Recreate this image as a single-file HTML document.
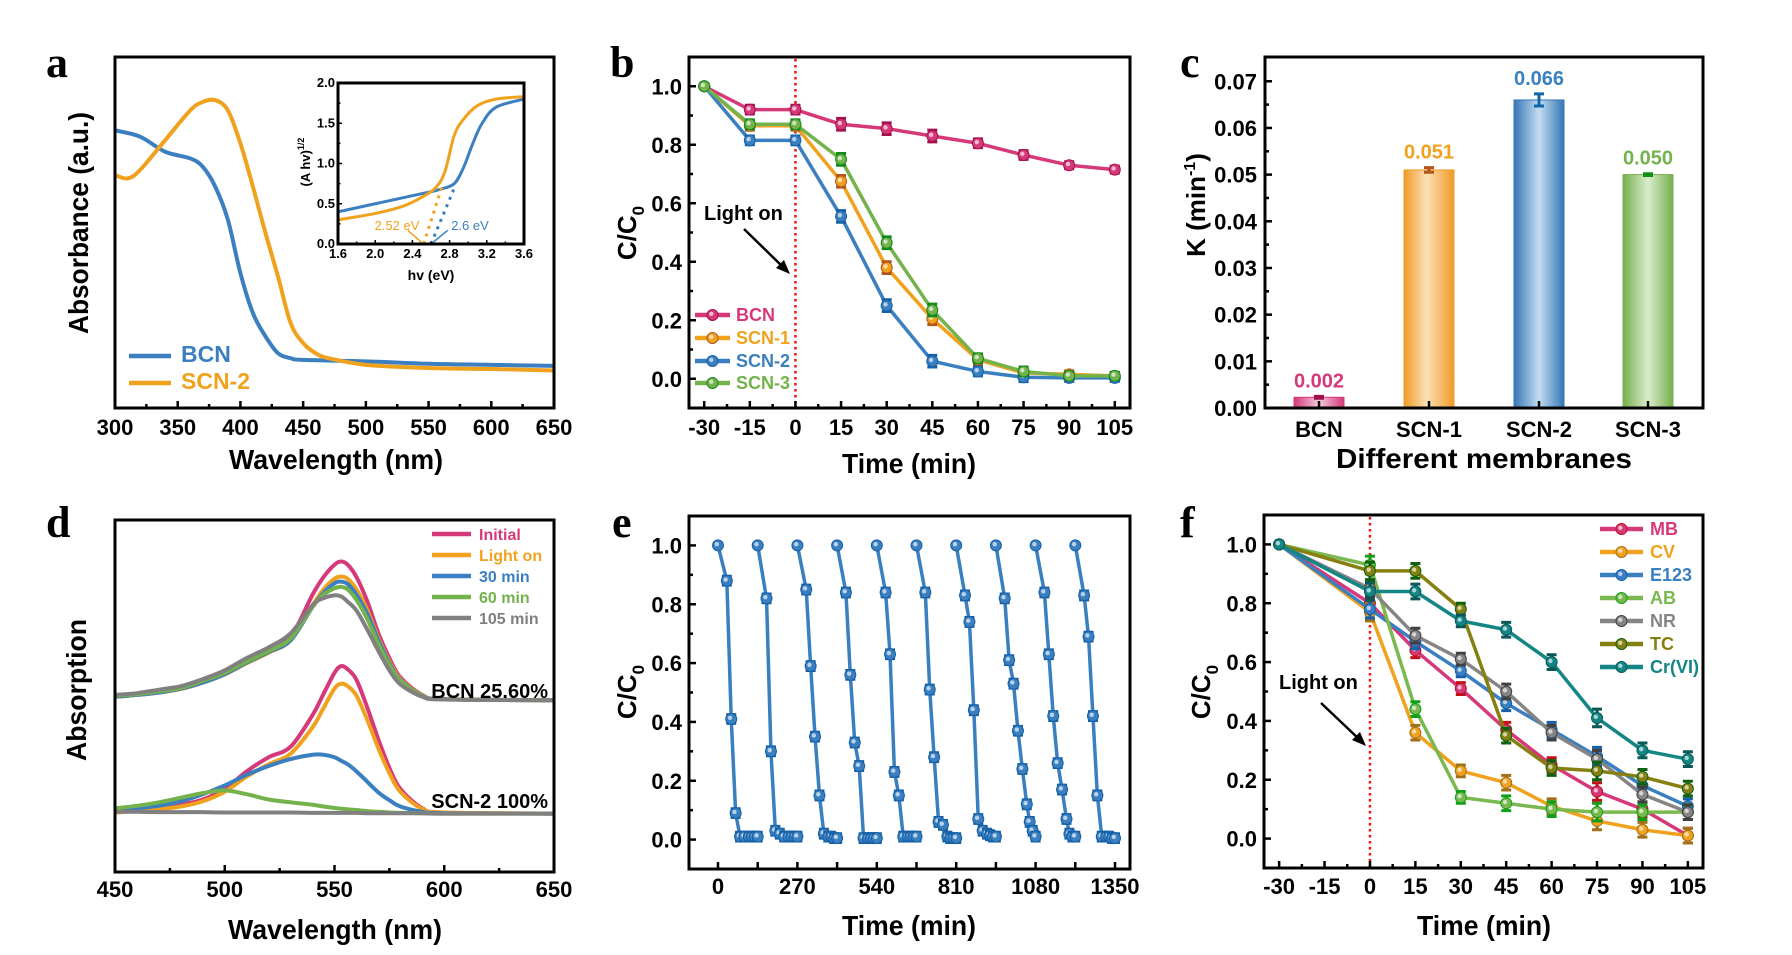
<!DOCTYPE html>
<html><head><meta charset="utf-8"><title>Photocatalysis figure</title>
<style>
html,body{margin:0;padding:0;background:#fff;}
svg{display:block;font-family:"Liberation Sans",Arial,sans-serif;}
</style></head>
<body>
<svg id="fig" width="1792" height="955" viewBox="0 0 1792 955" xmlns="http://www.w3.org/2000/svg">
<defs>
<linearGradient id="gBCN" x1="0" x2="1" y1="0" y2="0"><stop offset="0" stop-color="#d4387a"/><stop offset="0.5" stop-color="#f6cadb"/><stop offset="1" stop-color="#d4387a"/></linearGradient>
<linearGradient id="gS1" x1="0" x2="1" y1="0" y2="0"><stop offset="0" stop-color="#ef9b26"/><stop offset="0.45" stop-color="#fbe0b6"/><stop offset="1" stop-color="#ef9b26"/></linearGradient>
<linearGradient id="gS2" x1="0" x2="1" y1="0" y2="0"><stop offset="0" stop-color="#3677b6"/><stop offset="0.5" stop-color="#c3ddf1"/><stop offset="1" stop-color="#3677b6"/></linearGradient>
<linearGradient id="gS3" x1="0" x2="1" y1="0" y2="0"><stop offset="0" stop-color="#76ae4e"/><stop offset="0.5" stop-color="#dbeccd"/><stop offset="1" stop-color="#76ae4e"/></linearGradient>
</defs>
</svg>
<script>
// ---------- DATA ----------
// panel a
const aWl = [300,320,340,360,370,380,390,400,410,420,430,440,450,500,550,600,650];
const aBCN = [0.791,0.773,0.730,0.711,0.687,0.630,0.536,0.384,0.270,0.204,0.156,0.142,0.137,0.133,0.126,0.123,0.120];
const aSCNwl = [300,310,320,340,360,370,380,390,400,410,420,430,440,450,460,470,500,550,600,650];
const aSCN = [0.664,0.654,0.678,0.763,0.848,0.872,0.877,0.848,0.754,0.630,0.498,0.374,0.242,0.185,0.156,0.142,0.123,0.114,0.111,0.107];
const aXTicks = [300,350,400,450,500,550,600,650];
// inset
const insBlueX = [1.6,2.0,2.4,2.6,2.7,2.85,2.95,3.05,3.15,3.3,3.6];
const insBlueY = [0.4,0.5,0.6,0.65,0.68,0.75,0.95,1.25,1.5,1.7,1.8];
const insOrX = [1.6,2.0,2.3,2.5,2.65,2.75,2.85,2.95,3.1,3.3,3.6];
const insOrY = [0.3,0.38,0.47,0.58,0.7,0.9,1.35,1.55,1.72,1.8,1.83];
const insXTicks = [1.6,2.0,2.4,2.8,3.2,3.6];
const insYTicks = [0.0,0.5,1.0,1.5,2.0];
const gapOrange = 2.52, gapBlue = 2.6;
// panel b
const bTimes = [-30,-15,0,15,30,45,60,75,90,105];
const bBCN = [1,0.92,0.92,0.87,0.855,0.83,0.805,0.765,0.73,0.715];
const bSCN1 = [1,0.865,0.865,0.675,0.38,0.205,0.065,0.02,0.015,0.01];
const bSCN2 = [1,0.815,0.815,0.555,0.25,0.06,0.025,0.005,0.003,0.003];
const bSCN3 = [1,0.87,0.87,0.75,0.465,0.235,0.07,0.025,0.01,0.01];
const bErr = [0,0.015,0.015,0.02,0.02,0.02,0.015,0.015,0.012,0.012];
const bYTicks = [0.0,0.2,0.4,0.6,0.8,1.0];
// panel c
const cNames = ['BCN','SCN-1','SCN-2','SCN-3'];
const cK = [0.0023,0.051,0.066,0.050];
const cErr = [0.0002,0.0005,0.0013,0.0002];
const cLabels = ['0.002','0.051','0.066','0.050'];
const cYTicks = [0.00,0.01,0.02,0.03,0.04,0.05,0.06,0.07];
// panel d
const dWl = [450,460,470,480,490,500,510,520,530,540,545,550,553,556,560,565,570,575,580,590,600,650];
const dBCNbase = 0.488, dSCNbase = 0.166;
const dBCNInitial = [0.01,0.015,0.022,0.032,0.05,0.075,0.11,0.14,0.18,0.30,0.35,0.385,0.394,0.385,0.35,0.28,0.19,0.12,0.065,0.015,0.003,0];
const dBCNLight = [0.01,0.015,0.022,0.032,0.05,0.073,0.105,0.135,0.17,0.27,0.315,0.345,0.351,0.345,0.315,0.255,0.175,0.11,0.06,0.014,0.003,0];
const dBCN30 = [0.01,0.015,0.022,0.033,0.05,0.074,0.107,0.137,0.17,0.265,0.305,0.332,0.337,0.33,0.30,0.245,0.17,0.105,0.057,0.013,0.003,0];
const dBCN60 = [0.012,0.017,0.025,0.035,0.055,0.078,0.11,0.14,0.175,0.265,0.30,0.318,0.322,0.315,0.285,0.23,0.16,0.10,0.055,0.012,0.003,0];
const dBCN105 = [0.015,0.02,0.03,0.04,0.06,0.085,0.12,0.15,0.19,0.27,0.29,0.298,0.295,0.28,0.255,0.20,0.14,0.085,0.045,0.01,0.002,0];
const dSCNInitial = [0.005,0.01,0.015,0.025,0.04,0.07,0.12,0.16,0.19,0.28,0.34,0.40,0.419,0.41,0.38,0.30,0.21,0.13,0.07,0.015,0.003,0];
const dSCNLight = [0.003,0.007,0.012,0.02,0.035,0.062,0.105,0.14,0.17,0.245,0.30,0.355,0.369,0.362,0.335,0.265,0.185,0.115,0.062,0.013,0.003,0];
const dSCN30 = [0.01,0.015,0.022,0.035,0.055,0.08,0.11,0.135,0.155,0.167,0.167,0.16,0.15,0.14,0.12,0.09,0.06,0.038,0.02,0.005,0.001,0];
const dSCN60 = [0.015,0.022,0.032,0.045,0.058,0.066,0.055,0.04,0.032,0.025,0.02,0.016,0.014,0.012,0.01,0.007,0.005,0.003,0.002,0.001,0,0];
const dSCN105 = [0.005,0.005,0.004,0.004,0.004,0.003,0.003,0.003,0.003,0.002,0.002,0.002,0.002,0.002,0.002,0.001,0.001,0.001,0.001,0.001,0,0];
const dXTicks = [450,500,550,600,650];
// panel e
const eLocalT = [0,30,45,60,75,90,105,115,125,135];
const eCycleLen = 135;
const eCycle1 = [1,0.88,0.41,0.09,0.01,0.01,0.01,0.01,0.01,0.01];
const eCycle2 = [1,0.82,0.30,0.03,0.02,0.01,0.01,0.01,0.01,0.01];
const eCycle3 = [1,0.85,0.59,0.35,0.15,0.02,0.01,0.01,0.005,0.005];
const eCycle4 = [1,0.84,0.56,0.33,0.25,0.005,0.005,0.005,0.005,0.005];
const eCycle5 = [1,0.84,0.63,0.23,0.15,0.01,0.01,0.01,0.01,0.01];
const eCycle6 = [1,0.84,0.51,0.28,0.06,0.05,0.01,0.005,0.005,0.005];
const eCycle7 = [1,0.83,0.74,0.44,0.07,0.03,0.02,0.015,0.01,0.01];
const eCycle8 = [1,0.82,0.61,0.53,0.37,0.24,0.12,0.06,0.03,0.01];
const eCycle9 = [1,0.84,0.63,0.42,0.26,0.17,0.07,0.02,0.01,0.01];
const eCycle10 = [1,0.83,0.69,0.42,0.15,0.01,0.01,0.01,0.005,0.005];
const eXTicks = [0,270,540,810,1080,1350];
// panel f
const fTimes = [-30,0,15,30,45,60,75,90,105];
const fMB = [1,0.80,0.64,0.51,0.37,0.25,0.16,0.10,0.01];
const fCV = [1,0.77,0.36,0.23,0.19,0.11,0.06,0.03,0.01];
const fE123 = [1,0.78,0.67,0.57,0.46,0.37,0.28,0.18,0.11];
const fAB = [1,0.93,0.44,0.14,0.12,0.10,0.09,0.09,0.09];
const fNR = [1,0.85,0.69,0.61,0.50,0.36,0.27,0.15,0.09];
const fTC = [1,0.91,0.91,0.78,0.35,0.24,0.23,0.21,0.17];
const fCr = [1,0.84,0.84,0.74,0.71,0.60,0.41,0.30,0.27];
const fErr = [0,0.03,0.025,0.02,0.025,0.025,0.03,0.025,0.025];

// ---------- HELPERS ----------
const NS='http://www.w3.org/2000/svg';
const svg=document.getElementById('fig');
function el(tag,attrs,parent){const e=document.createElementNS(NS,tag);for(const k in attrs)e.setAttribute(k,attrs[k]);(parent||svg).appendChild(e);return e;}
function lin(d0,d1,r0,r1){return v=>r0+(v-d0)/(d1-d0)*(r1-r0);}
function txt(x,y,s,o,parent){o=o||{};const t=el('text',{x:x,y:y,'font-size':o.size||21,'font-weight':o.weight||'bold','text-anchor':o.anchor||'middle',fill:o.fill||'#000'},parent);if(o.family)t.setAttribute('font-family',o.family);if(o.len){t.setAttribute('textLength',o.len);t.setAttribute('lengthAdjust','spacingAndGlyphs');}if(o.rot)t.setAttribute('transform','rotate(-90 '+x+' '+y+')');t.textContent=s;return t;}
function smooth(pts){let d='M'+pts[0][0]+','+pts[0][1];for(let i=0;i<pts.length-1;i++){const p0=pts[Math.max(0,i-1)],p1=pts[i],p2=pts[i+1],p3=pts[Math.min(pts.length-1,i+2)];const c1x=p1[0]+(p2[0]-p0[0])/6,c1y=p1[1]+(p2[1]-p0[1])/6,c2x=p2[0]-(p3[0]-p1[0])/6,c2y=p2[1]-(p3[1]-p1[1])/6;d+=' C'+c1x+','+c1y+' '+c2x+','+c2y+' '+p2[0]+','+p2[1];}return d;}
function poly(pts){return 'M'+pts.map(p=>p[0]+','+p[1]).join(' L');}
function frame(x0,y0,x1,y1,name){const r=el('rect',{x:x0,y:y0,width:x1-x0,height:y1-y0,fill:'none',stroke:'#000','stroke-width':3});


return r;}
function tick(x1,y1,x2,y2,w){const l=el('line',{x1:x1,y1:y1,x2:x2,y2:y2,stroke:'#000','stroke-width':w||2.5});


return l;}
function marker(g,x,y,col,dark){const c=el('circle',{cx:x,cy:y,r:5.5,fill:col,stroke:dark,'stroke-width':1},g);


const h=el('circle',{cx:x-1.2,cy:y-1.2,r:2.2,fill:'#fff',opacity:0.65},g);

}
function errbar(g,x,y1,y2,col){const p=el('path',{d:'M'+x+','+y1+' L'+x+','+y2+' M'+(x-5)+','+y1+' L'+(x+5)+','+y1+' M'+(x-5)+','+y2+' L'+(x+5)+','+y2,stroke:col,'stroke-width':3,fill:'none'},g);

}
function panelLabel(x,y,s){const t=txt(x,y,s,{size:44,family:'"Liberation Serif",serif',anchor:'start'});

}
function yTitleC0(x,y,name){const t=el('text',{x:x,y:y,'font-size':26,'font-weight':'bold','text-anchor':'middle',transform:'rotate(-90 '+x+' '+y+')'});


t.textContent='C/C';
const s=el('tspan',{'font-size':17,dy:8},t);s.textContent='0';}
function series(g,xs,ys,X,Y,col,dark,errs,name){const pts=xs.map((v,i)=>[X(v),Y(ys[i])]);const p=el('path',{d:poly(pts),stroke:col,'stroke-width':3.5,fill:'none','stroke-linejoin':'round'},g);


pts.forEach((q,i)=>{if(errs&&errs[i]>0)errbar(g,q[0],Y(ys[i]+errs[i]),Y(ys[i]-errs[i]),dark);marker(g,q[0],q[1],col,dark);});}
function legendEntry(x1,x2,y,tx,label,col,dark,withMarker,size){const l=el('line',{x1:x1,y1:y,x2:x2,y2:y,stroke:col,'stroke-width':4.5});


if(withMarker)marker(svg,(x1+x2)/2,y,col,dark);
const t=txt(tx,y+6,label,{size:size||18,anchor:'start',fill:col});

}

// ================= PANEL A =================
(function(){
const X=lin(300,650,115,554), Y=lin(0,1,408,57);
panelLabel(46,77,'a');
const g=el('g',{});


const pb=el('path',{d:smooth(aWl.map((w,i)=>[X(w),Y(aBCN[i])])),stroke:'#3b7fc0','stroke-width':4,fill:'none'},g);


const po=el('path',{d:smooth(aSCNwl.map((w,i)=>[X(w),Y(aSCN[i])])),stroke:'#f0a21e','stroke-width':4,fill:'none'},g);


frame(115,57,554,408,'panel-a-frame');
for(let v=300;v<=650;v+=25){const major=(v%50===0);tick(X(v),408,X(v),408-(major?7:4));}
aXTicks.forEach(v=>{const t=txt(X(v),435,String(v),{size:22});

});
const xt=txt(336,469,'Wavelength (nm)',{size:28,len:214});


const yt=txt(88,223,'Absorbance (a.u.)',{size:28,rot:true,len:222});


legendEntry(129,171,356,181,'BCN','#3b7fc0','',false,23);
legendEntry(129,171,383,181,'SCN-2','#f0a21e','',false,23);

// inset
const IX=lin(1.6,3.6,338,524), IY=lin(0,2,244,83);
const gi=el('g',{});


const ib=el('path',{d:smooth(insBlueX.map((v,i)=>[IX(v),IY(insBlueY[i])])),stroke:'#3b7fc0','stroke-width':3,fill:'none'},gi);


const io=el('path',{d:smooth(insOrX.map((v,i)=>[IX(v),IY(insOrY[i])])),stroke:'#f0a21e','stroke-width':3,fill:'none'},gi);


const to=el('line',{x1:IX(gapOrange),y1:IY(0),x2:IX(2.72),y2:IY(0.72),stroke:'#f0a21e','stroke-width':3,'stroke-dasharray':'3,5'},gi);


const tb=el('line',{x1:IX(gapBlue),y1:IY(0),x2:IX(2.86),y2:IY(0.72),stroke:'#3b7fc0','stroke-width':3,'stroke-dasharray':'3,5'},gi);


const ao=el('line',{x1:IX(2.35),y1:IY(0.17),x2:IX(gapOrange)-2,y2:IY(0.02),stroke:'#f0a21e','stroke-width':1.5},gi);


const ab=el('line',{x1:IX(2.78),y1:IY(0.17),x2:IX(gapBlue)+2,y2:IY(0.02),stroke:'#3b7fc0','stroke-width':1.5},gi);


const lo=txt(397,230,gapOrange+' eV',{size:13,fill:'#f0a21e',weight:'normal'});


const lb=txt(470,230,gapBlue+' eV',{size:13,fill:'#3b7fc0',weight:'normal'});


frame(338,83,524,244,'inset-frame');
for(let v=1.6;v<=3.61;v+=0.2){const major=Math.abs((v-1.6)/0.4-Math.round((v-1.6)/0.4))<0.01;tick(IX(v),244,IX(v),244-(major?4:2.5),1.5);}
for(let v=0;v<=2.01;v+=0.25){const major=Math.abs(v*2-Math.round(v*2))<0.01;tick(338,IY(v),338+(major?4:2.5),IY(v),1.5);}
insXTicks.forEach(v=>{const t=txt(IX(v),258,v.toFixed(1),{size:13});

});
insYTicks.forEach(v=>{const t=txt(335,IY(v)+4,v.toFixed(1),{size:13,anchor:'end'});

});
const ixt=txt(431,280,'hv (eV)',{size:14});


const iyt=el('text',{x:310,y:162,'font-size':13,'font-weight':'bold','text-anchor':'middle',transform:'rotate(-90 310 162)'});


iyt.textContent='(A hv)';
const sup=el('tspan',{'font-size':9,dy:-6},iyt);sup.textContent='1/2';
})();

// ================= PANEL B =================
(function(){
const X=lin(-35,110,689,1130), Y=lin(-0.1,1.1,408,57);
panelLabel(610,77,'b');
const g=el('g',{});


const rl=el('line',{x1:X(0),y1:59,x2:X(0),y2:406,stroke:'#f01010','stroke-width':2.5,'stroke-dasharray':'2.5,3.5'},g);


series(g,bTimes,bBCN,X,Y,'#d6397a','#a5104e',bErr,'bcn');
series(g,bTimes,bSCN1,X,Y,'#f0a21e','#b0561a',bErr,'scn-1');
series(g,bTimes,bSCN2,X,Y,'#3a7fc0','#1660a8',bErr,'scn-2');
series(g,bTimes,bSCN3,X,Y,'#74b24c','#108a18',bErr,'scn-3');
frame(689,57,1130,408,'panel-b-frame');
for(let v=-30;v<=105;v+=7.5){const major=(v%15===0);tick(X(v),408,X(v),408-(major?7:4));}
for(let v=0;v<=1.0001;v+=0.1){const major=Math.abs(v*5-Math.round(v*5))<0.01;tick(689,Y(v),689+(major?7:4),Y(v));}
bTimes.forEach(v=>{const t=txt(X(v),435,String(v),{size:22});

});
bYTicks.forEach(v=>{const t=txt(682,Y(v)+8,v.toFixed(1),{size:22,anchor:'end'});

});
const xt=txt(909,473,'Time (min)',{size:28,len:134});


yTitleC0(636,233,'y-axis-title');
const lo=txt(704,220,'Light on',{size:20,anchor:'start'});


const ar=el('path',{d:'M744,229 L784,268',stroke:'#000','stroke-width':2.5},g);


const ah=el('path',{d:'M790,274 L776,268 L784,260 Z',fill:'#000'},g);


legendEntry(695,730,315,736,'BCN','#d6397a','#a5104e',true,18);
legendEntry(695,730,338,736,'SCN-1','#f0a21e','#b0561a',true,18);
legendEntry(695,730,361,736,'SCN-2','#3a7fc0','#1660a8',true,18);
legendEntry(695,730,383,736,'SCN-3','#74b24c','#108a18',true,18);
})();

// ================= PANEL C =================
(function(){
const Y=lin(0,0.0752,408,57);
const centers=[1319,1429,1539,1648];
const grads=['url(#gBCN)','url(#gS1)','url(#gS2)','url(#gS3)'];
const labCols=['#d6397a','#f0a21e','#3a7fc0','#74b24c'];
const errCols=['#a0104e','#b0561a','#1066a8','#10901a'];
const borders=['#d4387a','#ef9b26','#3677b6','#76ae4e'];
const g=el('g',{});


cK.forEach((k,i)=>{const r=el('rect',{x:centers[i]-25,y:Y(k),width:50,height:408-Y(k),fill:grads[i],stroke:borders[i],'stroke-width':1},g);


errbar(g,centers[i],Y(k+cErr[i]),Y(k-cErr[i]),errCols[i]);
const t=txt(centers[i],Y(k+cErr[i])-9,cLabels[i],{size:20,fill:labCols[i]});


tick(centers[i],408,centers[i],401);
const xl=txt(centers[i],437,cNames[i],{size:22});

});
frame(1265,57,1703,408,'panel-c-frame');
for(let v=0;v<=0.0701;v+=0.005){const major=Math.abs(v*100-Math.round(v*100))<0.01;tick(1265,Y(v),1265+(major?7:4),Y(v));}
cYTicks.forEach(v=>{const t=txt(1257,Y(v)+8,v.toFixed(2),{size:22,anchor:'end'});

});
const xt=txt(1484,468,'Different membranes',{size:28,len:296});


const yt=el('text',{x:1205,y:205,'font-size':26,'font-weight':'bold','text-anchor':'middle',transform:'rotate(-90 1205 205)'});


yt.textContent='K (min';
const s=el('tspan',{'font-size':16,dy:-10},yt);s.textContent='-1';
const s2=el('tspan',{dy:10},yt);s2.textContent=')';
panelLabel(1180,77,'c');
})();

// ================= PANEL D =================
(function(){
const X=lin(450,650,115,554), Y=lin(0,1,872,520);
panelLabel(46,537,'d');
const g=el('g',{});


const cols=['#d6397a','#f0a21e','#3a7fc0','#74b24c','#808080'];
const names=['initial','light-on','30-min','60-min','105-min'];
const bcn=[dBCNInitial,dBCNLight,dBCN30,dBCN60,dBCN105];
const scn=[dSCNInitial,dSCNLight,dSCN30,dSCN60,dSCN105];
scn.forEach((arr,i)=>{const p=el('path',{d:smooth(dWl.map((w,j)=>[X(w),Y(dSCNbase+arr[j])])),stroke:cols[i],'stroke-width':4,fill:'none'},g);

});
bcn.forEach((arr,i)=>{const p=el('path',{d:smooth(dWl.map((w,j)=>[X(w),Y(dBCNbase+arr[j])])),stroke:cols[i],'stroke-width':4,fill:'none'},g);

});
frame(115,520,554,872,'panel-d-frame');
for(let v=450;v<=650;v+=25){const major=(v%50===0);tick(X(v),872,X(v),872-(major?7:4));}
dXTicks.forEach(v=>{const t=txt(X(v),897,String(v),{size:22});

});
const xt=txt(335,939,'Wavelength (nm)',{size:28,len:214});


const yt=txt(86,690,'Absorption',{size:28,rot:true,len:142});


const b1=txt(548,698,'BCN   25.60%',{size:20,anchor:'end'});


const b2=txt(548,808,'SCN-2  100%',{size:20,anchor:'end'});


const labs=['Initial','Light on','30 min','60 min','105 min'];
[537,558,579,600,621].forEach((y,i)=>legendEntry(432,471,y-3,479,labs[i],cols[i],'',false,16));
})();

// ================= PANEL E =================
(function(){
const X=lin(0,1350,718,1115), Y=lin(-0.1,1.1,869,516);
panelLabel(612,537,'e');
const g=el('g',{});


const cycles=[eCycle1,eCycle2,eCycle3,eCycle4,eCycle5,eCycle6,eCycle7,eCycle8,eCycle9,eCycle10];
cycles.forEach((vals,c)=>{const ts=eLocalT.map(t=>t+c*eCycleLen);const errs=vals.map((v,i)=>i===0?0:0.015);series(g,ts,vals,X,Y,'#3a7fc0','#1660a8',errs,'cycle-'+(c+1));});
frame(689,516,1130,869,'panel-e-frame');
for(let v=0;v<=1350;v+=135){tick(X(v),869,X(v),862);}
for(let v=0;v<=1.0001;v+=0.1){const major=Math.abs(v*5-Math.round(v*5))<0.01;tick(689,Y(v),689+(major?7:4),Y(v));}
eXTicks.forEach(v=>{const t=txt(X(v),894,String(v),{size:22});

});
bYTicks.forEach(v=>{const t=txt(682,Y(v)+8,v.toFixed(1),{size:22,anchor:'end'});

});
const xt=txt(909,935,'Time (min)',{size:28,len:134});


yTitleC0(636,692,'y-axis-title');
})();

// ================= PANEL F =================
(function(){
const X=lin(-35,110,1264,1703), Y=lin(-0.1,1.1,868,515);
panelLabel(1180,537,'f');
const g=el('g',{});


const rl=el('line',{x1:X(0),y1:517,x2:X(0),y2:866,stroke:'#f01010','stroke-width':2.5,'stroke-dasharray':'2.5,3.5'},g);


const sets=[[fMB,'#d6397a','#c0101e','MB'],[fCV,'#f0a21e','#a0701a','CV'],[fE123,'#3a7fc0','#1660a8','E123'],[fAB,'#7ab850','#10a018','AB'],[fNR,'#858585','#404040','NR'],[fTC,'#858010','#106010','TC'],[fCr,'#138585','#0a5858','Cr(VI)']];
sets.forEach(s=>series(g,fTimes,s[0],X,Y,s[1],s[2],fErr,s[3].toLowerCase().replace(/[^a-z0-9]+/g,'')));
frame(1264,515,1703,868,'panel-f-frame');
for(let v=-30;v<=105;v+=7.5){const major=(v%15===0);tick(X(v),868,X(v),868-(major?7:4));}
for(let v=0;v<=1.0001;v+=0.1){const major=Math.abs(v*5-Math.round(v*5))<0.01;tick(1264,Y(v),1264+(major?7:4),Y(v));}
bTimes.forEach(v=>{const t=txt(X(v),894,String(v),{size:22});

});
bYTicks.forEach(v=>{const t=txt(1257,Y(v)+8,v.toFixed(1),{size:22,anchor:'end'});

});
const xt=txt(1484,935,'Time (min)',{size:28,len:134});


yTitleC0(1210,692,'y-axis-title');
const lo=txt(1279,689,'Light on',{size:20,anchor:'start'});


const ar=el('path',{d:'M1321,703 L1360,740',stroke:'#000','stroke-width':2.5},g);


const ah=el('path',{d:'M1366,746 L1352,740 L1360,732 Z',fill:'#000'},g);


sets.forEach((s,i)=>legendEntry(1600,1643,529+i*23,1650,s[3],s[1],s[2],true,18));
})();
</script>
</body></html>
